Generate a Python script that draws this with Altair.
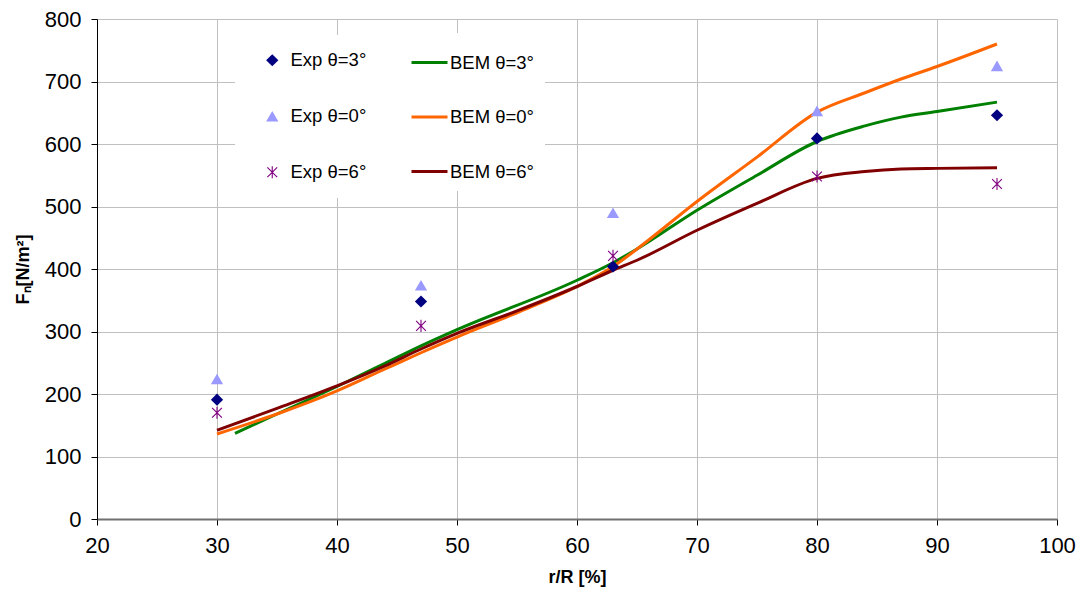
import altair as alt
import pandas as pd

# Measured normal force per unit area at five radial stations
exp_r = [30, 47, 63, 80, 95]
exp_pitch3 = [191, 348, 404, 609, 646]
exp_pitch0 = [224, 374, 490, 653, 725]
exp_pitch6 = [170, 309, 421, 548, 536]

# BEM predictions along the span
bem3_r = [31.5, 35, 40, 44, 47, 50, 60, 63, 65, 70, 75, 80, 84, 87, 90, 95]
bem3_fn = [137, 168, 212, 249, 277, 303, 382, 410, 432, 494, 550, 604, 629, 643, 652, 667]
bem_r = [30, 35, 40, 44, 47, 50, 55, 60, 63, 65, 70, 75, 80, 84, 87, 90, 95]
bem0_fn = [136, 168, 205, 240, 266, 291, 330, 372, 404, 432, 508, 579, 651, 682, 704, 724, 760]
bem6_fn = [142, 177, 213, 245, 272, 297, 333, 372, 398, 414, 462, 505, 545, 556, 560, 561, 562]

exp_names = ["Exp θ=3°", "Exp θ=0°", "Exp θ=6°"]
bem_names = ["BEM θ=3°", "BEM θ=0°", "BEM θ=6°"]
exp_colors = ["#000080", "#9999FF", "#800080"]
bem_colors = ["#008000", "#FF6600", "#800000"]

# Asterisk marker built from three thin bars (vertical + two diagonals)
STAR = (
    "M-0.09,-1L0.09,-1L0.09,1L-0.09,1Z"
    "M-0.736,-0.864L0.864,0.736L0.736,0.864L-0.864,-0.736Z"
    "M-0.864,0.736L0.736,-0.864L0.864,-0.736L-0.736,0.864Z"
)
exp_shapes = ["diamond", "triangle-up", STAR]

exp_rows = []
for name, vals in zip(exp_names, [exp_pitch3, exp_pitch0, exp_pitch6]):
    for r, v in zip(exp_r, vals):
        exp_rows.append({"r": r, "fn": v, "series": name})
exp_df = pd.DataFrame(exp_rows)

bem_rows = []
for name, rs, vals in zip(bem_names, [bem3_r, bem_r, bem_r], [bem3_fn, bem0_fn, bem6_fn]):
    for r, v in zip(rs, vals):
        bem_rows.append({"r": r, "fn": v, "series": name})
bem_df = pd.DataFrame(bem_rows)

FONT = "Liberation Sans"

x_enc = alt.X(
    "r:Q",
    scale=alt.Scale(domain=[20, 100], nice=False),
    axis=alt.Axis(
        values=list(range(20, 101, 10)),
        title="r/R [%]",
        domainColor="#707070",
        domainWidth=2,
        labelPadding=10,
        labelFlush=False,
        titlePadding=12,
    ),
)
y_enc = alt.Y(
    "fn:Q",
    scale=alt.Scale(domain=[0, 800], nice=False),
    axis=alt.Axis(
        values=list(range(0, 801, 100)),
        title="Fₙ[N/m²]",
        domainColor="#000000",
        domainWidth=1,
        labelPadding=10,
        labelFlush=False,
        titlePadding=12,
    ),
)

line_legend = alt.Legend(
    orient="none",
    legendX=284,
    legendY=14,
    title=None,
    fillColor="white",
    padding=10,
    rowPadding=25.5,
    symbolType="stroke",
    symbolSize=1296,
    symbolStrokeWidth=3,
    symbolOffset=19,
    labelOffset=1,
    labelFontSize=18.5,
    labelFont=FONT,
    labelColor="#000000",
)

point_legend = alt.Legend(
    orient="none",
    legendX=138,
    legendY=16,
    title=None,
    fillColor="white",
    padding=16,
    rowPadding=37,
    symbolSize=150,
    symbolOffset=12,
    labelOffset=9,
    labelFontSize=18.5,
    labelFont=FONT,
    labelColor="#000000",
)

lines = alt.Chart(bem_df).mark_line(strokeWidth=3, interpolate="monotone").encode(
    x=x_enc,
    y=y_enc,
    stroke=alt.Stroke(
        "series:N",
        scale=alt.Scale(domain=bem_names, range=bem_colors),
        sort=bem_names,
        legend=line_legend,
    ),
)

points = alt.Chart(exp_df).mark_point(filled=True, size=150, opacity=1).encode(
    x=x_enc,
    y=y_enc,
    fill=alt.Fill(
        "series:N",
        scale=alt.Scale(domain=exp_names, range=exp_colors),
        sort=exp_names,
        legend=point_legend,
    ),
    shape=alt.Shape(
        "series:N",
        scale=alt.Scale(domain=exp_names, range=exp_shapes),
        sort=exp_names,
        legend=point_legend,
    ),
)

chart = (
    alt.layer(lines, points)
    .resolve_scale(stroke="independent", fill="independent", shape="independent")
    .properties(
        width=960,
        height=500,
        autosize=alt.AutoSizeParams(type="none"),
        padding={"left": 97, "top": 19, "right": 23, "bottom": 78},
        background="white",
    )
    .configure_view(strokeWidth=0)
    .configure_axis(
        grid=True,
        gridColor="#c0c0c0",
        gridWidth=1,
        tickColor="#000000",
        tickSize=6,
        labelFont=FONT,
        labelFontSize=22,
        labelColor="#000000",
        titleFont=FONT,
        titleFontSize=18,
        titleFontWeight="bold",
        titleColor="#000000",
    )
)

chart.save("out.html", embed_options={"renderer": "svg", "actions": False})
